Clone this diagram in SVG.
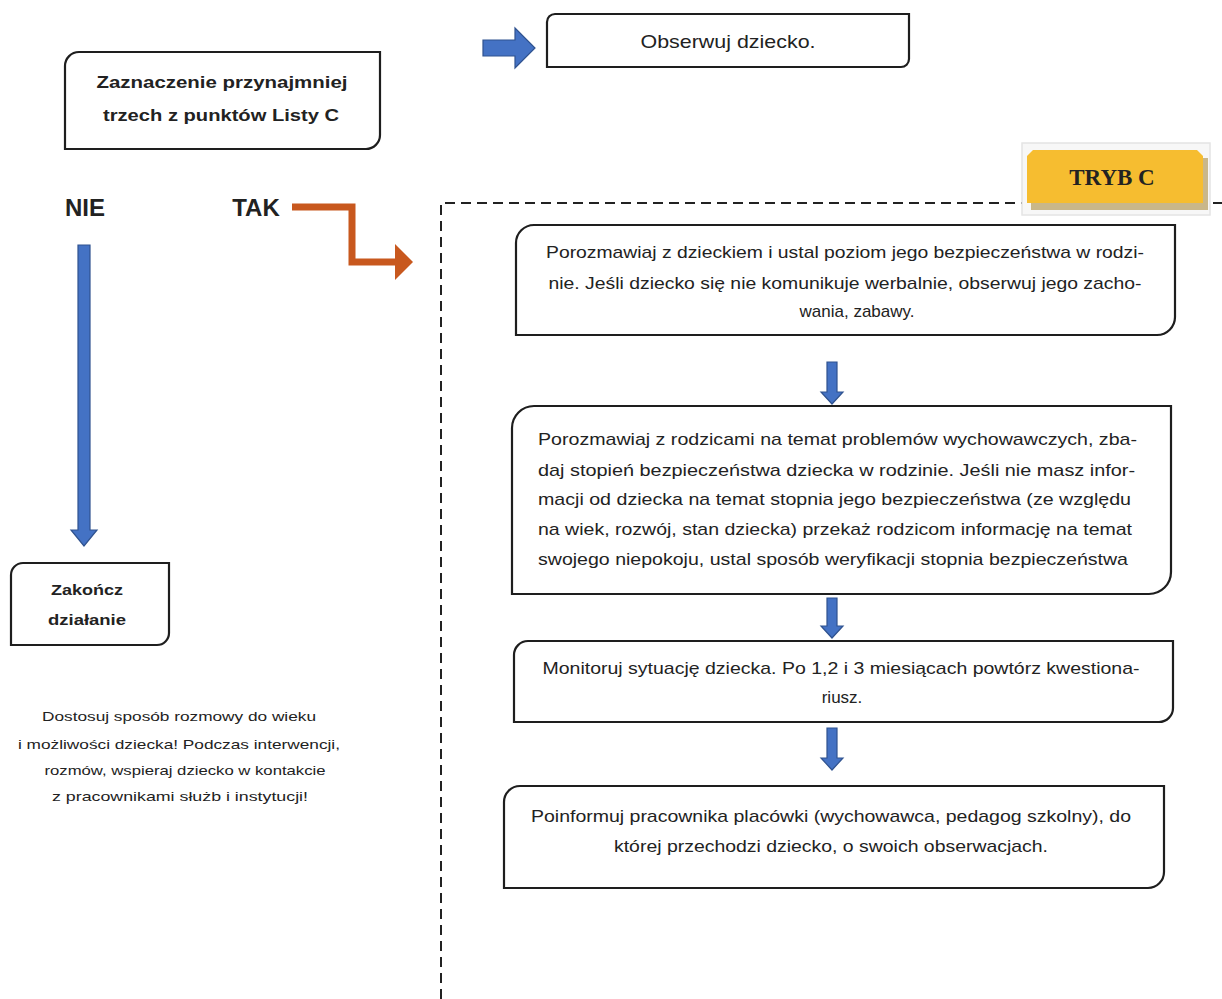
<svg xmlns="http://www.w3.org/2000/svg" width="1222" height="999" viewBox="0 0 1222 999">
<style>
.box{fill:#fff;stroke:#1e1e1e;stroke-width:2.2}
.t{font-family:"Liberation Sans",Arial,sans-serif;font-size:17px;fill:#222}
.b{font-family:"Liberation Sans",Arial,sans-serif;font-weight:bold;fill:#222}
.n{font-family:"Liberation Sans",Arial,sans-serif;font-size:13px;fill:#222}
.blue{fill:#4472C4;stroke:#2F528F;stroke-width:1.2}
</style>
<rect width="1222" height="999" fill="#fff"/>
<g id="connectors">
<path d="M441,999 V203 H1222" fill="none" stroke="#222" stroke-width="2" stroke-dasharray="10,6"/>
<polygon class="blue" points="483,40 515,40 515,28 535,48 515,68 515,56 483,56"/>
<path d="M292,207 H352 V262 H397" fill="none" stroke="#C8581E" stroke-width="7"/>
<polygon points="395,244 413,262 395,280" fill="#C8581E"/>
<polygon class="blue" points="78,245 90,245 90,530 97,530 84,546 71,530 78,530"/>
<polygon class="blue" points="827,362 837,362 837,392 843,392 832,404 821,392 827,392"/>
<polygon class="blue" points="827,598 837,598 837,626 843,626 832,638 821,626 827,626"/>
<polygon class="blue" points="827,728 837,728 837,758 843,758 832,770 821,758 827,758"/>
</g>
<g id="tryb-c">
<rect x="1022" y="143" width="188" height="72" fill="#f7f7f7" stroke="#e4e4e4" stroke-width="1.5"/>
<rect x="1031" y="158" width="177" height="52" fill="#C9B78A"/>
<polygon points="1033,150 1197,150 1203,156 1203,203 1027,203 1027,156" fill="#F6BD30"/>
<text x="1112" y="185" text-anchor="middle" font-family="'Liberation Serif','Times New Roman',serif" font-weight="bold" font-size="23" fill="#222">TRYB C</text>
</g>
<g id="obserwuj">
<path class="box" d="M547,22 A8,8 0 0 1 555,14 H909 V59 A8,8 0 0 1 901,67 H547 Z"/>
<text x="728" y="48" text-anchor="middle" font-family="'Liberation Sans',Arial,sans-serif" font-size="19" fill="#222" textLength="175" lengthAdjust="spacingAndGlyphs">Obserwuj dziecko.</text>
</g>
<g id="zaznaczenie">
<path class="box" d="M65,66 A14,14 0 0 1 79,52 H380 V135 A14,14 0 0 1 366,149 H65 Z"/>
<text class="b" x="222" y="88" text-anchor="middle" font-size="17" textLength="251" lengthAdjust="spacingAndGlyphs">Zaznaczenie przynajmniej</text>
<text class="b" x="221" y="121" text-anchor="middle" font-size="17" textLength="236" lengthAdjust="spacingAndGlyphs">trzech z punktów Listy C</text>
</g>
<g id="nie">
<text class="b" x="85" y="216" text-anchor="middle" font-size="24">NIE</text>
</g>
<g id="tak">
<text class="b" x="256" y="216" text-anchor="middle" font-size="24">TAK</text>
</g>
<g id="zakoncz">
<path class="box" d="M11,575 A12,12 0 0 1 23,563 H169 V633 A12,12 0 0 1 157,645 H11 Z"/>
<text class="b" x="87" y="595" text-anchor="middle" font-size="15" textLength="72" lengthAdjust="spacingAndGlyphs">Zakończ</text>
<text class="b" x="87" y="625" text-anchor="middle" font-size="15" textLength="78" lengthAdjust="spacingAndGlyphs">działanie</text>
</g>
<g id="note">
<text class="n" x="179" y="721" text-anchor="middle" textLength="274" lengthAdjust="spacingAndGlyphs">Dostosuj sposób rozmowy do wieku</text>
<text class="n" x="179" y="749" text-anchor="middle" textLength="322" lengthAdjust="spacingAndGlyphs">i możliwości dziecka! Podczas interwencji,</text>
<text class="n" x="185" y="775" text-anchor="middle" textLength="281" lengthAdjust="spacingAndGlyphs">rozmów, wspieraj dziecko w kontakcie</text>
<text class="n" x="180" y="801" text-anchor="middle" textLength="256" lengthAdjust="spacingAndGlyphs">z pracownikami służb i instytucji!</text>
</g>
<g id="krok1">
<path class="box" d="M516,243 A18,18 0 0 1 534,225 H1175 V317 A18,18 0 0 1 1157,335 H516 Z"/>
<text class="t" x="845" y="258" text-anchor="middle" textLength="598" lengthAdjust="spacingAndGlyphs">Porozmawiaj z dzieckiem i ustal poziom jego bezpieczeństwa w rodzi-</text>
<text class="t" x="845" y="289" text-anchor="middle" textLength="593" lengthAdjust="spacingAndGlyphs">nie. Jeśli dziecko się nie komunikuje werbalnie, obserwuj jego zacho-</text>
<text class="t" x="857" y="317" text-anchor="middle">wania, zabawy.</text>
</g>
<g id="krok2">
<path class="box" d="M512,428 A22,22 0 0 1 534,406 H1171 V572 A22,22 0 0 1 1149,594 H512 Z"/>
<text class="t" x="538" y="445" textLength="599" lengthAdjust="spacingAndGlyphs">Porozmawiaj z rodzicami na temat problemów wychowawczych, zba-</text>
<text class="t" x="538" y="476" textLength="597" lengthAdjust="spacingAndGlyphs">daj stopień bezpieczeństwa dziecka w rodzinie. Jeśli nie masz infor-</text>
<text class="t" x="538" y="505" textLength="593" lengthAdjust="spacingAndGlyphs">macji od dziecka na temat stopnia jego bezpieczeństwa (ze względu</text>
<text class="t" x="538" y="535" textLength="594" lengthAdjust="spacingAndGlyphs">na wiek, rozwój, stan dziecka) przekaż rodzicom informację na temat</text>
<text class="t" x="538" y="565" textLength="590" lengthAdjust="spacingAndGlyphs">swojego niepokoju, ustal sposób weryfikacji stopnia bezpieczeństwa</text>
</g>
<g id="krok3">
<path class="box" d="M514,655 A14,14 0 0 1 528,641 H1173 V708 A14,14 0 0 1 1159,722 H514 Z"/>
<text class="t" x="841" y="674" text-anchor="middle" textLength="597" lengthAdjust="spacingAndGlyphs">Monitoruj sytuację dziecka. Po 1,2 i 3 miesiącach powtórz kwestiona-</text>
<text class="t" x="842" y="703" text-anchor="middle">riusz.</text>
</g>
<g id="krok4">
<path class="box" d="M504,802 A16,16 0 0 1 520,786 H1164 V872 A16,16 0 0 1 1148,888 H504 Z"/>
<text class="t" x="831" y="822" text-anchor="middle" textLength="600" lengthAdjust="spacingAndGlyphs">Poinformuj pracownika placówki (wychowawca, pedagog szkolny), do</text>
<text class="t" x="831" y="852" text-anchor="middle" textLength="434" lengthAdjust="spacingAndGlyphs">której przechodzi dziecko, o swoich obserwacjach.</text>
</g>
</svg>
